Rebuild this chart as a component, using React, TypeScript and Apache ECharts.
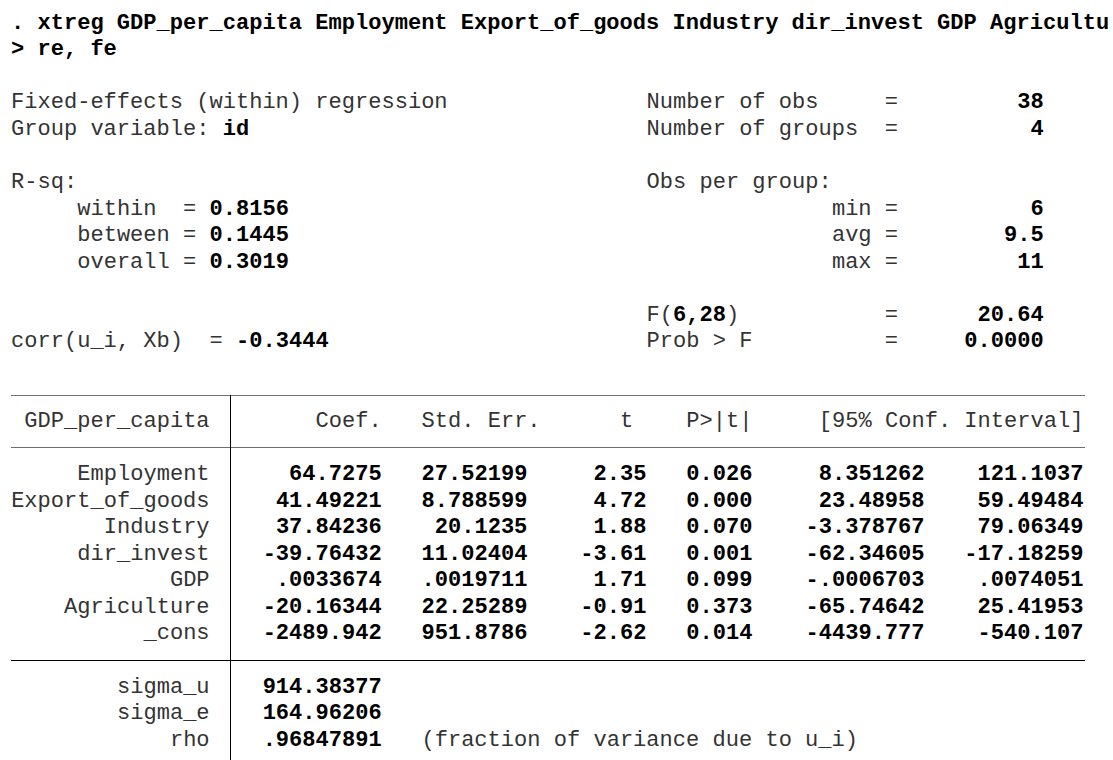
import React, { useEffect, useRef } from "react";
import * as echarts from "echarts";

// ---- Data (as printed by Stata) ----
const commandLine1 = ". xtreg GDP_per_capita Employment Export_of_goods Industry dir_invest GDP Agricultu";
const commandLine2 = "> re, fe";
const modelTitle = "Fixed-effects (within) regression";
const groupVarLabel = "Group variable: ";
const groupVar = "id";
const rsqLabels = ["within", "between", "overall"];
const rsqValues = ["0.8156", "0.1445", "0.3019"];
const corrLabel = "corr(u_i, Xb)";
const corrValue = "-0.3444";
const countLabels = ["Number of obs", "Number of groups"];
const countValues = ["38", "4"];
const obsPerGroupLabels = ["min", "avg", "max"];
const obsPerGroupValues = ["6", "9.5", "11"];
const fDf = "6,28";
const fStat = "20.64";
const probF = "0.0000";
const depVar = "GDP_per_capita";
const headerLabels = ["Coef.", "Std. Err.", "t", "P>|t|", "[95% Conf. Interval]"];
const varNames = ["Employment", "Export_of_goods", "Industry", "dir_invest", "GDP", "Agriculture", "_cons"];
const coefs = ["64.7275", "41.49221", "37.84236", "-39.76432", ".0033674", "-20.16344", "-2489.942"];
const stdErrs = ["27.52199", "8.788599", "20.1235", "11.02404", ".0019711", "22.25289", "951.8786"];
const tStats = ["2.35", "4.72", "1.88", "-3.61", "1.71", "-0.91", "-2.62"];
const pValues = ["0.026", "0.000", "0.070", "0.001", "0.099", "0.373", "0.014"];
const ciLower = ["8.351262", "23.48958", "-3.378767", "-62.34605", "-.0006703", "-65.74642", "-4439.777"];
const ciUpper = ["121.1037", "59.49484", "79.06349", "-17.18259", ".0074051", "25.41953", "-540.107"];
const sigmaLabels = ["sigma_u", "sigma_e", "rho"];
const sigmaValues = ["914.38377", "164.96206", ".96847891"];
const rhoNote = "(fraction of variance due to u_i)";

// ---- Layout (character grid) ----
const X0 = 11;
const CW = 13.24;
const Y0 = 23.3;
const LH = 26.55;
const FS = CW / 0.6;
const FAMILY = '"Liberation Mono", "DejaVu Sans Mono", monospace';
const NORMAL_COLOR = "#333333";
const BOLD_COLOR = "#000000";

const lineY = (i: number) => Y0 + i * LH;
const colX = (c: number) => X0 + c * CW;

function txt(col: number, line: number, text: string, bold = false, align: "left" | "right" = "left") {
  return {
    type: "text",
    x: colX(col),
    y: lineY(line),
    style: {
      text,
      font: `${bold ? "bold " : ""}${FS}px ${FAMILY}`,
      fill: bold ? BOLD_COLOR : NORMAL_COLOR,
      align,
      textAlign: align,
      verticalAlign: "middle",
      textVerticalAlign: "middle",
    },
  };
}

function hline(y: number, color: string) {
  return {
    type: "line",
    shape: { x1: X0, y1: y, x2: 1085, y2: y },
    style: { stroke: color, lineWidth: 1 },
  };
}

function buildElements() {
  const els: any[] = [];
  // command
  els.push(txt(0, 0, commandLine1, true));
  els.push(txt(0, 1, commandLine2, true));
  // left header
  els.push(txt(0, 3, modelTitle));
  els.push(txt(0, 4, groupVarLabel));
  els.push(txt(groupVarLabel.length, 4, groupVar, true));
  els.push(txt(0, 6, "R-sq:"));
  rsqLabels.forEach((lab, i) => {
    els.push(txt(5, 7 + i, lab));
    els.push(txt(13, 7 + i, "="));
    els.push(txt(15, 7 + i, rsqValues[i], true));
  });
  els.push(txt(0, 12, corrLabel));
  els.push(txt(15, 12, "="));
  els.push(txt(17, 12, corrValue, true));
  // right header
  countLabels.forEach((lab, i) => {
    els.push(txt(48, 3 + i, lab));
    els.push(txt(66, 3 + i, "="));
    els.push(txt(78, 3 + i, countValues[i], true, "right"));
  });
  els.push(txt(48, 6, "Obs per group:"));
  obsPerGroupLabels.forEach((lab, i) => {
    els.push(txt(65, 7 + i, lab, false, "right"));
    els.push(txt(66, 7 + i, "="));
    els.push(txt(78, 7 + i, obsPerGroupValues[i], true, "right"));
  });
  els.push(txt(48, 11, "F("));
  els.push(txt(50, 11, fDf, true));
  els.push(txt(50 + fDf.length, 11, ")"));
  els.push(txt(66, 11, "="));
  els.push(txt(78, 11, fStat, true, "right"));
  els.push(txt(48, 12, "Prob > F"));
  els.push(txt(66, 12, "="));
  els.push(txt(78, 12, probF, true, "right"));

  // table rules
  els.push(hline(395.5, "#707070"));
  els.push(hline(447.5, "#707070"));
  els.push(hline(660.5, "#000000"));
  els.push({
    type: "line",
    shape: { x1: 230.5, y1: 395, x2: 230.5, y2: 760 },
    style: { stroke: "#000000", lineWidth: 1 },
  });

  // header row
  const headerEnds = [28, 40, 47, 56, 81];
  els.push(txt(15, 15, depVar, false, "right"));
  headerLabels.forEach((h, i) => els.push(txt(headerEnds[i], 15, h, false, "right")));

  // coefficient rows
  const cols = [coefs, stdErrs, tStats, pValues, ciLower, ciUpper];
  const ends = [28, 39, 48, 56, 69, 81];
  varNames.forEach((name, r) => {
    els.push(txt(15, 17 + r, name, false, "right"));
    cols.forEach((arr, c) => els.push(txt(ends[c], 17 + r, arr[r], true, "right")));
  });

  // sigma rows
  sigmaLabels.forEach((lab, r) => {
    els.push(txt(15, 25 + r, lab, false, "right"));
    els.push(txt(28, 25 + r, sigmaValues[r], true, "right"));
  });
  els.push(txt(31, 27, rhoNote));
  return els;
}

export default function App() {
  const ref = useRef<HTMLDivElement>(null);
  useEffect(() => {
    document.body.style.margin = "0";
    if (!ref.current) return;
    const chart = echarts.init(ref.current, null, { renderer: "svg" });
    chart.setOption({
      animation: false,
      backgroundColor: "#ffffff",
      graphic: { elements: buildElements() },
    });
    return () => chart.dispose();
  }, []);
  return <div ref={ref} style={{ width: 1113, height: 760, background: "#fff" }} />;
}
